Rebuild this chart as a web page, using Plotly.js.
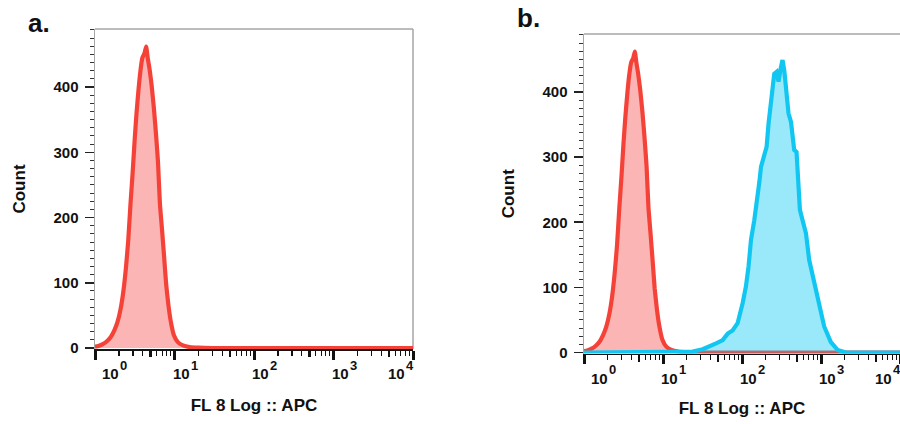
<!DOCTYPE html>
<html><head><meta charset="utf-8">
<script src="https://cdn.plot.ly/plotly-3.0.1.min.js"></script>
<style>html,body{margin:0;padding:0;background:#fff}#chart{width:900px;height:424px}</style>
</head><body><div id="chart"></div>
<script>
// ---- data ----
const panelLabels = ['a.', 'b.'];
const xTitle = 'FL 8 Log :: APC';
const yTitle = 'Count';
const yTickVals = [0, 100, 200, 300, 400];
const xTickVals = [1, 10, 100, 1000, 10000];
const xTickBase = ['10', '10', '10', '10', '10'];
const xTickExp = ['0', '1', '2', '3', '4'];
const xMidTickVals = [5, 50, 500, 5000];
const xMinorTickVals = [2, 3, 4, 6, 7, 8, 9, 20, 30, 40, 60, 70, 80, 90, 200, 300, 400, 600, 700, 800, 900, 2000, 3000, 4000, 6000, 7000, 8000, 9000];

// unstained control (red)
const redX = [1.00, 1.10, 1.25, 1.40, 1.58, 1.75, 1.92, 2.10, 2.28, 2.45, 2.62, 2.80, 2.98, 3.15, 3.33, 3.52, 3.72, 3.95, 4.20, 4.40, 4.60, 4.85, 5.15, 5.50, 5.85, 6.20, 6.55, 6.95, 7.40, 7.85, 8.40, 9.00, 9.80, 11.0, 12.8, 15.5, 20, 30, 10000];
const redY = [2, 3, 6, 10, 17, 27, 40, 60, 88, 123, 165, 222, 270, 318, 360, 395, 424, 445, 452, 462, 445, 428, 403, 368, 328, 285, 222, 183, 140, 98, 65, 40, 20, 9, 4, 1.5, 0.5, 0, 0];

// stained sample (cyan)
const cyanX = [1, 19.6, 23.7, 31.8, 38.6, 47, 57, 66, 76, 88, 102, 112, 121, 130, 143, 150, 160, 166, 174, 191, 205, 217, 233, 244, 256, 274, 290, 311, 326, 343, 353, 366, 388, 417, 437, 458, 490, 520, 541, 584, 645, 709, 820, 949, 1097, 1333, 1620, 2065, 10000];
const cyanY = [0, 0, 1.5, 5, 9, 14, 19, 29, 34, 45, 76, 101, 132, 173, 203, 220, 250, 262, 285, 300, 316, 352, 387, 413, 428, 431, 416, 438, 449, 433, 418, 387, 367, 354, 331, 311, 308, 260, 219, 203, 183, 142, 106, 72, 40, 16, 4, 0, 0];

// ---- styles ----
const FONT = '"Liberation Sans", Arial, Helvetica, sans-serif';
const tickFont = {family: FONT, size: 15, color: '#111', weight: 'bold'};
const expFont = {family: FONT, size: 13, color: '#111', weight: 'bold'};
const titleFont = {family: FONT, size: 17, color: '#111', weight: 'bold'};
const RED_LINE = 'rgb(245,66,56)';
const RED_FILL = 'rgba(245,70,70,0.40)';
const CYAN_LINE = 'rgb(18,198,242)';
const CYAN_FILL = 'rgba(0,200,245,0.40)';
const BORDER = '#a6a6a6';

function histTrace(x, y, line, fill, xa, ya, shape) {
  return {x: x, y: y, type: 'scatter', mode: 'lines', xaxis: xa, yaxis: ya,
    fill: 'tozeroy', fillcolor: fill,
    line: shape === 'spline' ? {color: line, width: 4.2, shape: 'spline', smoothing: 0.5} : {color: line, width: 4.2, shape: 'linear'},
    hoverinfo: 'skip'};
}

const data = [
  histTrace(redX, redY, RED_LINE, RED_FILL, 'x', 'y', 'spline'),
  histTrace(redX, redY, RED_LINE, RED_FILL, 'x2', 'y2', 'spline'),
  histTrace(cyanX, cyanY, CYAN_LINE, CYAN_FILL, 'x2', 'y2', 'linear'),
  {x: [], y: [], type: 'scatter', xaxis: 'x3', yaxis: 'y', hoverinfo: 'skip'},
  {x: [], y: [], type: 'scatter', xaxis: 'x4', yaxis: 'y2', hoverinfo: 'skip'}
];

function xAxis(domain, anchor, standoff) {
  return {
    type: 'log', range: [0, 4], domain: domain, anchor: anchor,
    showline: true, linecolor: '#151515', linewidth: 1.5,
    ticks: 'outside', tickmode: 'array', tickvals: xTickVals, ticklen: 9, tickwidth: 3, tickcolor: '#111',
    showticklabels: false, showgrid: false, zeroline: false, fixedrange: true,
    minor: {tickmode: 'array', tickvals: xMinorTickVals, ticks: 'outside', ticklen: 5, tickwidth: 1.2, tickcolor: '#111', showgrid: false},
    title: {text: xTitle, font: titleFont, standoff: standoff}
  };
}
function xMidAxis(overlay, anchor) {
  return {
    type: 'log', range: [0, 4], overlaying: overlay, anchor: anchor,
    showline: false, ticks: 'outside', tickmode: 'array', tickvals: xMidTickVals, ticklen: 7, tickwidth: 2.5, tickcolor: '#111',
    showticklabels: false, showgrid: false, zeroline: false, fixedrange: true
  };
}
function yAxis(domain, anchor) {
  return {
    range: [-1.5, 489], domain: domain, anchor: anchor,
    showline: true, linecolor: BORDER, linewidth: 1.5,
    ticks: 'outside', tickmode: 'array', tickvals: yTickVals, ticklen: 9, tickwidth: 1.6, tickcolor: '#222',
    ticklabelstandoff: 3, tickfont: tickFont,
    minor: {dtick: 12.5, tick0: 0, ticks: 'outside', ticklen: 4, tickwidth: 1, tickcolor: '#333', showgrid: false},
    showgrid: false, zeroline: false, fixedrange: true,
    title: {text: yTitle, font: titleFont, standoff: 23}
  };
}

// decade labels "10" with a raised exponent, placed through the log axis
function tickLabelAnnotations(xref, yref) {
  const out = [];
  xTickVals.forEach(function (v, i) {
    const first = i === 0, last = i === xTickVals.length - 1;
    const s = first ? 5 : (last ? -27 : -4);
    const common = {xref: xref, yref: yref + ' domain', x: Math.log10(v), y: 0,
      showarrow: false, xanchor: 'left', yanchor: 'top'};
    out.push(Object.assign({}, common, {text: xTickBase[i], xshift: s, yshift: -14, font: tickFont}));
    out.push(Object.assign({}, common, {text: xTickExp[i], xshift: s + 18, yshift: -6.5, font: expFont}));
  });
  return out;
}

const W = 900, H = 424;
const labelFont = {family: FONT, size: 26, color: '#111', weight: 'bold'};
const layout = {
  width: W, height: H,
  margin: {l: 0, r: 0, t: 0, b: 0},
  paper_bgcolor: '#fff', plot_bgcolor: '#fff',
  showlegend: false,
  xaxis: xAxis([95 / W, 413 / W], 'y', 40),
  yaxis: yAxis([(H - 349) / H, (H - 29) / H], 'x'),
  xaxis2: xAxis([584 / W, 1], 'y2', 39),
  yaxis2: yAxis([(H - 353.5) / H, (H - 34) / H], 'x2'),
  xaxis3: xMidAxis('x', 'y'),
  xaxis4: xMidAxis('x2', 'y2'),
  shapes: [
    {type: 'line', xref: 'x domain', yref: 'y domain', x0: 0, x1: 1, y0: 1, y1: 1, line: {color: BORDER, width: 1.5}, layer: 'below'},
    {type: 'line', xref: 'x domain', yref: 'y domain', x0: 1, x1: 1, y0: 0, y1: 1, line: {color: BORDER, width: 1.5}, layer: 'below'},
    {type: 'line', xref: 'x2 domain', yref: 'y2 domain', x0: 0, x1: 1, y0: 1, y1: 1, line: {color: BORDER, width: 1.5}, layer: 'below'}
  ],
  annotations: [
    {xref: 'paper', yref: 'paper', x: 26 / W, y: 1 - 23 / H, xanchor: 'left', yanchor: 'middle', showarrow: false,
      text: panelLabels[0], font: labelFont},
    {xref: 'paper', yref: 'paper', x: 515 / W, y: 1 - 18 / H, xanchor: 'left', yanchor: 'middle', showarrow: false,
      text: panelLabels[1], font: labelFont}
  ].concat(tickLabelAnnotations('x', 'y'), tickLabelAnnotations('x2', 'y2'))
};

Plotly.newPlot('chart', data, layout, {displayModeBar: false, staticPlot: true});
</script>
</body></html>
